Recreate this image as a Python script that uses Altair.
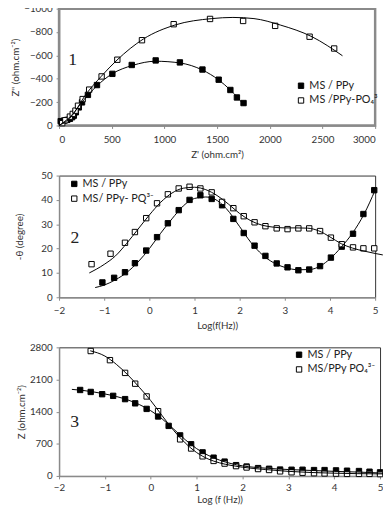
import altair as alt
import pandas as pd

# ---------------- Panel 1 : Nyquist ----------------
p1_labels = ["MS / PPy", "MS /PPy-PO₄³"]
p1_ms_x = [16, 47, 78, 103, 124, 140, 159, 187, 218, 274, 360, 506, 690, 917, 1147, 1361, 1515, 1626, 1688, 1751]
p1_ms_y = [-37, -42, -48, -57, -71, -84, -113, -155, -198, -262, -346, -442, -518, -557, -540, -479, -392, -304, -240, -192]
p1_po_x = [30, 60, 103, 130, 156, 180, 224, 286, 404, 553, 787, 1088, 1433, 1747, 2051, 2378, 2611]
p1_po_y = [-20, -45, -76, -99, -127, -169, -226, -307, -420, -563, -730, -867, -912, -895, -853, -760, -659]
p1_ms_fit_x = [0, 100, 200, 360, 500, 700, 917, 1150, 1360, 1515, 1630, 1700, 1757]
p1_ms_fit_y = [0, -60, -180, -340, -440, -515, -550, -535, -475, -390, -300, -235, -169]
p1_po_fit_x = [0, 150, 250, 400, 550, 800, 1100, 1450, 1650, 1850, 2100, 2400, 2690]
p1_po_fit_y = [0, -120, -260, -420, -560, -740, -860, -915, -925, -915, -860, -760, -597]

# ---------------- Panel 2 : phase angle ----------------
p2_labels = ["MS / PPy", "MS/ PPy- PQ³⁻"]
p2_ms_x = [-1.04, -0.78, -0.54, -0.32, -0.07, 0.17, 0.41, 0.65, 0.89, 1.13, 1.38, 1.61, 1.86, 2.09, 2.33, 2.57, 2.82, 3.06, 3.30, 3.54, 3.78, 4.02, 4.26, 4.51, 4.74, 4.98]
p2_ms_y = [6.1, 8.0, 10.3, 14.0, 19.2, 24.7, 30.4, 35.8, 40.0, 41.9, 40.4, 37.8, 32.2, 26.4, 21.2, 17.0, 13.9, 12.3, 11.1, 11.4, 12.8, 16.3, 20.8, 26.1, 34.2, 44.0]
p2_po_x = [-1.28, -0.86, -0.54, -0.32, -0.07, 0.17, 0.41, 0.65, 0.89, 1.13, 1.38, 1.61, 1.86, 2.09, 2.33, 2.57, 2.82, 3.06, 3.30, 3.54, 3.78, 4.02, 4.26, 4.51, 4.74, 4.98]
p2_po_y = [13.6, 17.9, 22.4, 26.8, 32.5, 38.6, 42.3, 44.7, 45.4, 44.7, 43.1, 39.2, 36.6, 33.3, 30.8, 29.2, 28.3, 28.0, 28.3, 28.3, 27.2, 24.5, 21.8, 20.5, 20.1, 20.1]
p2_ms_fit_x = [-1.2, -1.0, -0.75, -0.5, -0.25, 0.0, 0.25, 0.5, 0.75, 1.0, 1.25, 1.45, 1.7, 2.0, 2.25, 2.5, 2.75, 3.0, 3.3, 3.55, 3.8, 4.0, 4.25, 4.5, 4.75, 5.0]
p2_ms_fit_y = [4.0, 5.0, 7.2, 10.2, 14.5, 20.0, 26.3, 32.2, 37.5, 40.6, 41.2, 40.3, 36.5, 29.0, 22.5, 17.5, 14.2, 12.3, 11.3, 11.4, 13.0, 15.8, 20.6, 26.4, 34.0, 44.0]
p2_po_fit_x = [-1.33, -1.0, -0.75, -0.5, -0.25, 0.0, 0.25, 0.5, 0.75, 1.0, 1.25, 1.5, 1.75, 2.0, 2.25, 2.5, 2.75, 3.0, 3.25, 3.5, 3.75, 4.0, 4.25, 4.5, 4.75, 5.0, 5.17]
p2_po_fit_y = [10.0, 13.5, 17.0, 22.2, 28.0, 33.8, 39.0, 42.8, 44.8, 45.2, 44.2, 41.8, 38.3, 34.4, 31.4, 29.6, 28.8, 28.5, 28.5, 28.4, 27.3, 24.8, 22.0, 20.2, 19.0, 18.0, 17.4]

# ---------------- Panel 3 : modulus ----------------
p3_labels = ["MS / PPy", "MS/PPy  PO₄³⁻"]
p3_ms_x = [-1.54, -1.31, -1.06, -0.82, -0.56, -0.34, -0.09, 0.16, 0.39, 0.64, 0.88, 1.13, 1.37, 1.61, 1.86, 2.09, 2.34, 2.58, 2.82, 3.07, 3.31, 3.56, 3.79, 4.04, 4.28, 4.54, 4.77, 5.0]
p3_ms_y = [1872, 1829, 1780, 1744, 1673, 1581, 1460, 1295, 1090, 883, 690, 513, 398, 312, 235, 205, 171, 156, 139, 135, 135, 128, 128, 121, 114, 107, 92, 78]
p3_po_x = [-1.31, -0.89, -0.56, -0.34, -0.09, 0.16, 0.64, 0.88, 1.13, 1.37, 1.61, 1.86, 2.09, 2.34, 2.58, 2.82, 3.07, 3.31, 3.56, 3.79, 4.04, 4.28, 4.54, 4.77, 5.0]
p3_po_y = [2720, 2521, 2244, 2009, 1731, 1410, 797, 598, 427, 327, 269, 214, 184, 150, 130, 100, 80, 70, 60, 55, 50, 45, 45, 45, 40]
p3_ms_fit_x = [-1.72, -1.5, -1.25, -1.0, -0.75, -0.5, -0.25, 0.0, 0.25, 0.5, 0.75, 1.0, 1.25, 1.5, 1.75, 2.0, 2.5, 3.0, 3.5, 4.0, 4.5, 5.0, 5.2]
p3_ms_fit_y = [1885, 1865, 1830, 1785, 1730, 1655, 1555, 1420, 1240, 1020, 790, 595, 450, 345, 270, 220, 170, 140, 120, 100, 85, 65, 60]
p3_po_fit_x = [-1.32, -1.0, -0.75, -0.5, -0.25, 0.0, 0.25, 0.5, 0.75, 1.0, 1.25, 1.5, 1.75, 2.0, 2.5, 3.0, 3.5, 4.0, 4.5, 5.0, 5.2]
p3_po_fit_y = [2725, 2610, 2430, 2200, 1930, 1640, 1310, 990, 720, 510, 370, 285, 230, 190, 140, 100, 75, 60, 50, 45, 45]

# panel number annotations (data coordinates)
panel_tags = ["1", "2", "3"]
tag_x = [130, -1.65, -1.66]
tag_y = [-563, 24.4, 1182]

FONT = "Lato"


def pts(labels, ax, ay, bx, by):
    return pd.DataFrame({
        "x": ax + bx, "y": ay + by,
        "series": [labels[0]] * len(ax) + [labels[1]] * len(bx)})


def fits(labels, ax, ay, bx, by):
    return pd.DataFrame({
        "x": ax + bx, "y": ay + by,
        "series": [labels[0]] * len(ax) + [labels[1]] * len(bx),
        "i": list(range(len(ax))) + list(range(len(bx)))})


def panel(labels, pdf, fdf, xsc, ysc, xvals, yvals, xtitle, ytitle, ytp, xtp, xlp, flush,
          lx, ly, tag, tx, ty, w, h, view):
    x_enc = alt.X("x:Q", scale=xsc, axis=alt.Axis(values=xvals, title=xtitle, format="d",
                                                  titlePadding=xtp, labelPadding=xlp,
                                                  labelFlush=flush))
    y_enc = alt.Y("y:Q", scale=ysc, axis=alt.Axis(values=yvals, title=ytitle, titlePadding=ytp, format="d"))
    points = alt.Chart(pdf).mark_square(size=30, stroke="black", strokeWidth=1, opacity=1).encode(
        x=x_enc, y=y_enc,
        fill=alt.Fill("series:N", scale=alt.Scale(domain=labels, range=["black", "white"]),
                      legend=alt.Legend(title=None, orient="none", legendX=lx, legendY=ly,
                                        padding=0, rowPadding=3, symbolSize=30,
                                        symbolType="square", symbolStrokeColor="black",
                                        symbolStrokeWidth=1, labelFont=FONT, labelFontSize=11,
                                        labelColor="#222", labelOffset=3)))
    lines = alt.Chart(fdf).mark_line(color="black", strokeWidth=1, interpolate="monotone").encode(
        x=x_enc, y=y_enc, detail="series:N", order="i:Q")
    text = alt.Chart(pd.DataFrame({"x": [tx], "y": [ty], "t": [tag]})).mark_text(
        font="Liberation Serif", fontSize=18, color="#222").encode(
        x=x_enc, y=y_enc, text="t:N")
    return alt.layer(points, lines, text).properties(width=w, height=h, view=view)


p1 = panel(p1_labels, pts(p1_labels, p1_ms_x, p1_ms_y, p1_po_x, p1_po_y),
           fits(p1_labels, p1_ms_fit_x, p1_ms_fit_y, p1_po_fit_x, p1_po_fit_y),
           alt.Scale(domain=[0, 3000], nice=False), alt.Scale(domain=[0, -1000], nice=False),
           [0, 500, 1000, 1500, 2000, 2500, 3000], [0, -200, -400, -600, -800, -1000],
           "Z' (ohm.cm²)", "Z'' (ohm.cm⁻²)", 3, 6, 6, True, 241, 73, panel_tags[0], tag_x[0], tag_y[0],
           322, 119, alt.ViewBackground(stroke="#8a8a8a", strokeWidth=2.5))
p2 = panel(p2_labels, pts(p2_labels, p2_ms_x, p2_ms_y, p2_po_x, p2_po_y),
           fits(p2_labels, p2_ms_fit_x, p2_ms_fit_y, p2_po_fit_x, p2_po_fit_y),
           alt.Scale(domain=[-2, 5], nice=False), alt.Scale(domain=[0, 50], nice=False),
           [-2, -1, 0, 1, 2, 3, 4, 5], [0, 10, 20, 30, 40, 50],
           "Log(f(Hz))", "-θ (degree)", 17, 5, 6, False, 10, 3, panel_tags[1], tag_x[1], tag_y[1],
           322, 124, alt.ViewBackground(stroke="#333", strokeWidth=1))
p3 = panel(p3_labels, pts(p3_labels, p3_ms_x, p3_ms_y, p3_po_x, p3_po_y),
           fits(p3_labels, p3_ms_fit_x, p3_ms_fit_y, p3_po_fit_x, p3_po_fit_y),
           alt.Scale(domain=[-2, 5], nice=False), alt.Scale(domain=[0, 2800], nice=False),
           [-2, -1, 0, 1, 2, 3, 4, 5], [0, 700, 1400, 2100, 2800],
           "Log (f (Hz))", "Z (ohm.cm⁻²)", 3, 2, 4, False, 239, 2, panel_tags[2], tag_x[2], tag_y[2],
           327, 131, alt.ViewBackground(stroke="#333", strokeWidth=1))

chart = alt.vconcat(p1, p2, p3, spacing=51, bounds="flush").resolve_scale(
    fill="independent", x="independent", y="independent"
).properties(
    padding={"left": 1, "top": -11, "right": -9, "bottom": 0}, background="white"
).configure_axis(
    grid=False, labelFont=FONT, labelFontSize=10, labelColor="#333",
    titleFont=FONT, titleFontSize=10, titleFontWeight="normal", titleColor="#333",
    domainColor="#8a8a8a", domainWidth=1.5, tickColor="#8a8a8a", tickSize=3,
    labelPadding=4, labelOverlap=False, labelFlush=False
)

chart.save("out.html", embed_options={"renderer": "svg", "actions": False})
